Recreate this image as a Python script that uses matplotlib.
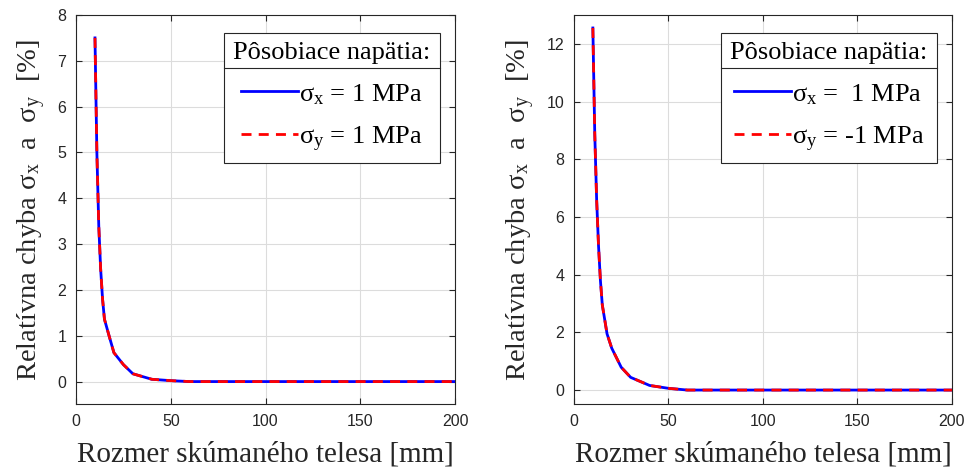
import numpy as np
import matplotlib
matplotlib.use('Agg')
import matplotlib.pyplot as plt
from matplotlib.lines import Line2D

plt.rcParams['font.family'] = ['Liberation Sans', 'DejaVu Sans']
plt.rcParams['mathtext.fontset'] = 'custom'
plt.rcParams['mathtext.rm'] = 'Liberation Serif'
plt.rcParams['mathtext.it'] = 'Liberation Serif:italic'

# rozmer telesa [mm]
rozmer = [10, 11, 12, 13, 14, 15, 17.5, 20, 25, 30, 40, 50, 60, 70, 80, 90,
          100, 110, 120, 130, 140, 150, 160, 170, 180, 190, 200]

# relativna chyba [%] - lavy graf (sx = 1, sy = 1)
chyba_1_x = [7.5, 5.0, 3.4, 2.45, 1.8, 1.36, 0.99, 0.63, 0.37, 0.17, 0.05, 0.02, 0.0,
             0, 0, 0, 0, 0, 0, 0, 0, 0, 0, 0, 0, 0, 0]
chyba_1_y = chyba_1_x

# pravy graf (sx = 1, sy = -1)
chyba_2_x = [12.55, 8.9, 6.6, 5.0, 3.8, 2.95, 1.95, 1.45, 0.79, 0.44, 0.16, 0.06, 0.0,
             0, 0, 0, 0, 0, 0, 0, 0, 0, 0, 0, 0, 0, 0]
chyba_2_y = chyba_2_x

legendy = [['σ$_{\\rm x}$ = 1 MPa', 'σ$_{\\rm y}$ = 1 MPa'],
           ['σ$_{\\rm x}$ =  1 MPa', 'σ$_{\\rm y}$ = -1 MPa']]

serif = ['Liberation Serif', 'DejaVu Serif']

fig = plt.figure(figsize=(9.71, 4.70), dpi=100)
ax1 = fig.add_axes([0.0783, 0.1394, 0.3903, 0.8287])
ax2 = fig.add_axes([0.5911, 0.1394, 0.3893, 0.8287])

data = [(ax1, chyba_1_x, chyba_1_y, (-0.5, 8), range(0, 9)),
        (ax2, chyba_2_x, chyba_2_y, (-0.5, 13), range(0, 13, 2))]

legs = []
for i, (ax, yx, yy, ylim, yt) in enumerate(data):
    l1, = ax.plot(rozmer, yx, color='blue', lw=2.0)
    l2, = ax.plot(rozmer, yy, color='red', lw=2.0, dashes=(3.6, 2.6))
    ax.set_xlim(0, 200)
    ax.set_ylim(*ylim)
    ax.set_xticks([0, 50, 100, 150, 200])
    ax.set_yticks(list(yt))
    ax.grid(True, color='#dcdcdc', lw=0.8)
    ax.set_axisbelow(True)
    ax.tick_params(direction='in', top=True, right=True, labelsize=11.5,
                   colors='#262626', length=4, width=0.8, pad=7)
    for s in ax.spines.values():
        s.set_color('#262626')
        s.set_linewidth(0.8)
    ax.set_xlabel('Rozmer skúmaného telesa [mm]', fontsize=21, family=serif,
                  color='#262626', labelpad=9)
    ax.set_ylabel('Relatívna chyba σ$_{\\rm x}$  a  σ$_{\\rm y}$  [%]', fontsize=20.5,
                  family=serif, color='#262626', labelpad=7)
    leg = ax.legend([l1, l2], legendy[i], title='Pôsobiace napätia:',
                    loc='upper right', bbox_to_anchor=(0.96, 0.955),
                    prop={'family': serif, 'size': 19},
                    title_fontproperties={'family': serif, 'size': 19},
                    fancybox=False, framealpha=1, edgecolor='#262626',
                    handlelength=2.15, handletextpad=0.05, borderpad=0.35,
                    labelspacing=0.66, borderaxespad=0, handleheight=0.9)
    leg.get_frame().set_linewidth(0.8)
    leg.get_lines()[1].set_dashes((3.6, 2.6))
    legs.append(leg)

# oddelovacia ciara pod nadpisom legendy
fig.canvas.draw()
r = fig.canvas.get_renderer()
for leg in legs:
    fb = leg.get_frame().get_window_extent(r)
    tb = leg.get_title().get_window_extent(r)
    yline = tb.y0 - 4
    x0, y0 = fig.transFigure.inverted().transform((fb.x0, yline))
    x1, _ = fig.transFigure.inverted().transform((fb.x1, yline))
    fig.add_artist(Line2D([x0, x1], [y0, y0], color='#262626', lw=0.8,
                          transform=fig.transFigure, zorder=10))

fig.savefig('out.png', dpi=100)
